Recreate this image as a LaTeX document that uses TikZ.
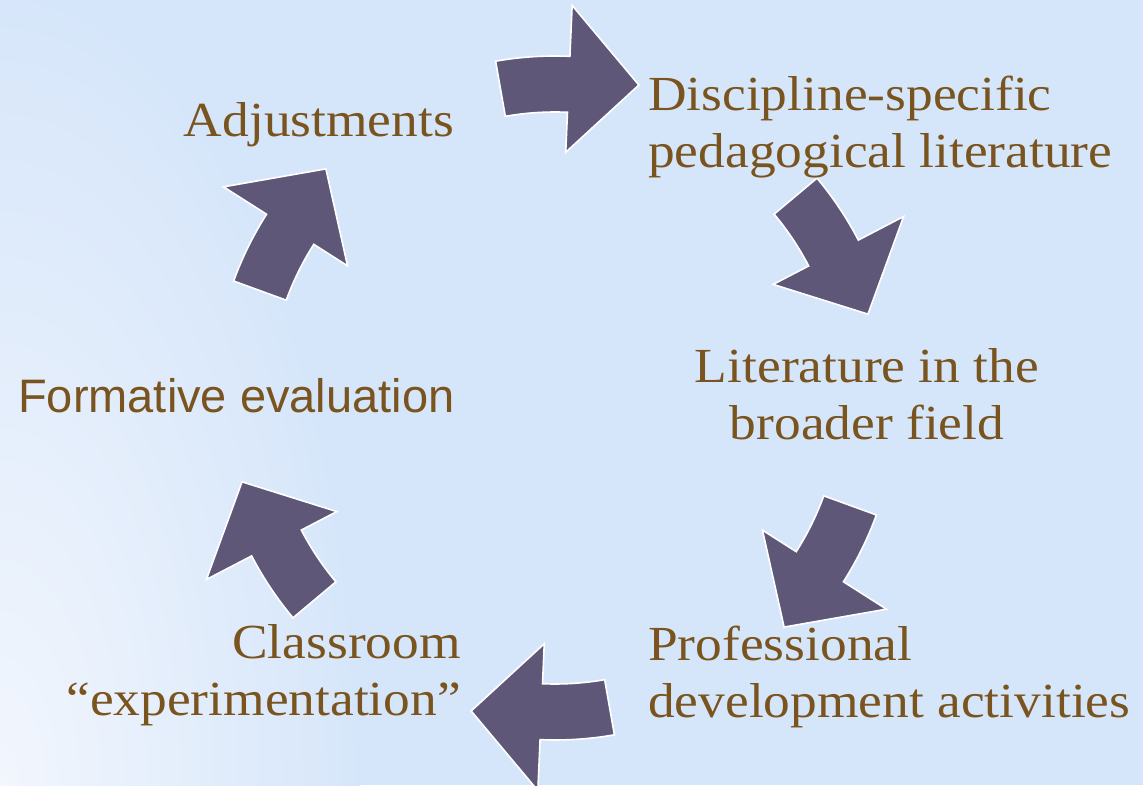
\documentclass[tikz,border=0pt]{standalone}
\usepackage{fontspec}
\usepackage{xcolor}
\usepackage{tikz}
\usetikzlibrary{calc}
\usetikzlibrary{positioning}
\newfontfamily\labelserif{Liberation Serif}[FakeStretch=1.09]
\newfontfamily\labelsans{Liberation Sans}
\definecolor{bgblue}{RGB}{214,230,250}
\definecolor{bgwhite}{RGB}{242,246,253}
\definecolor{cyclearrow}{RGB}{94,87,120}
\definecolor{labelbrown}{RGB}{122,84,30}
\tikzset{
    cycle arrow/.style={
        fill=cyclearrow,
        draw=white,
        line width=1.6pt,
        line join=miter,
    },
    cycle label/.style={
        text=labelbrown,
        inner sep=0pt,
        font=\labelserif\fontsize{49}{57}\selectfont,
    },
    cycle label sans/.style={
        cycle label,
        font=\labelsans\fontsize{47}{57}\selectfont,
    },
}

\begin{document}
\begin{tikzpicture}[x=1pt, y=1pt]

    \useasboundingbox (0, 0) rectangle (1143, 785);
    \fill[bgblue] (0, 0) rectangle (1143, 785);
    \begin{scope}
        \clip (0, 0) rectangle (1143, 785);
        \shade[inner color=bgwhite, outer color=bgblue] (0, 0) ellipse [x radius=360, y radius=800];
    \end{scope}

    \coordinate (centre) at (555, 387);

    % one curved block arrow, drawn at the top of the cycle
    \newcommand\cyclepiece{
        \draw[cycle arrow] (100:342) arc[start angle=100, end angle=87.5, radius=342]
            -- (87.5:393) -- (75:324) -- (87.5:246) -- (87.5:286)
            arc[start angle=87.5, end angle=100, radius=286] -- cycle;
    }

    \foreach \k in {0,...,5}
    {
        \begin{scope}[shift={(centre)}, rotate=-60*\k]
            \cyclepiece
        \end{scope}
    }

    % base anchors sit on the last line of each label
    \node[cycle label, anchor=base west, align=left] (disc) at (648, 617)
        {Discipline-specific\\pedagogical literature};
    \node[cycle label, anchor=base, align=center] (lit) at (867, 345)
        {Literature in the\\broader field};
    \node[cycle label, anchor=base west, align=left] (prof) at (648, 68)
        {Professional\\development activities};
    \node[cycle label, anchor=base east, align=right] (class) at (461, 70)
        {Classroom\\“experimentation”};
    \node[cycle label sans, anchor=base west] (form) at (18, 372)
        {Formative evaluation};
    \node[cycle label, anchor=base] (adj) at (319, 648)
        {Adjustments};

\end{tikzpicture}
\end{document}
